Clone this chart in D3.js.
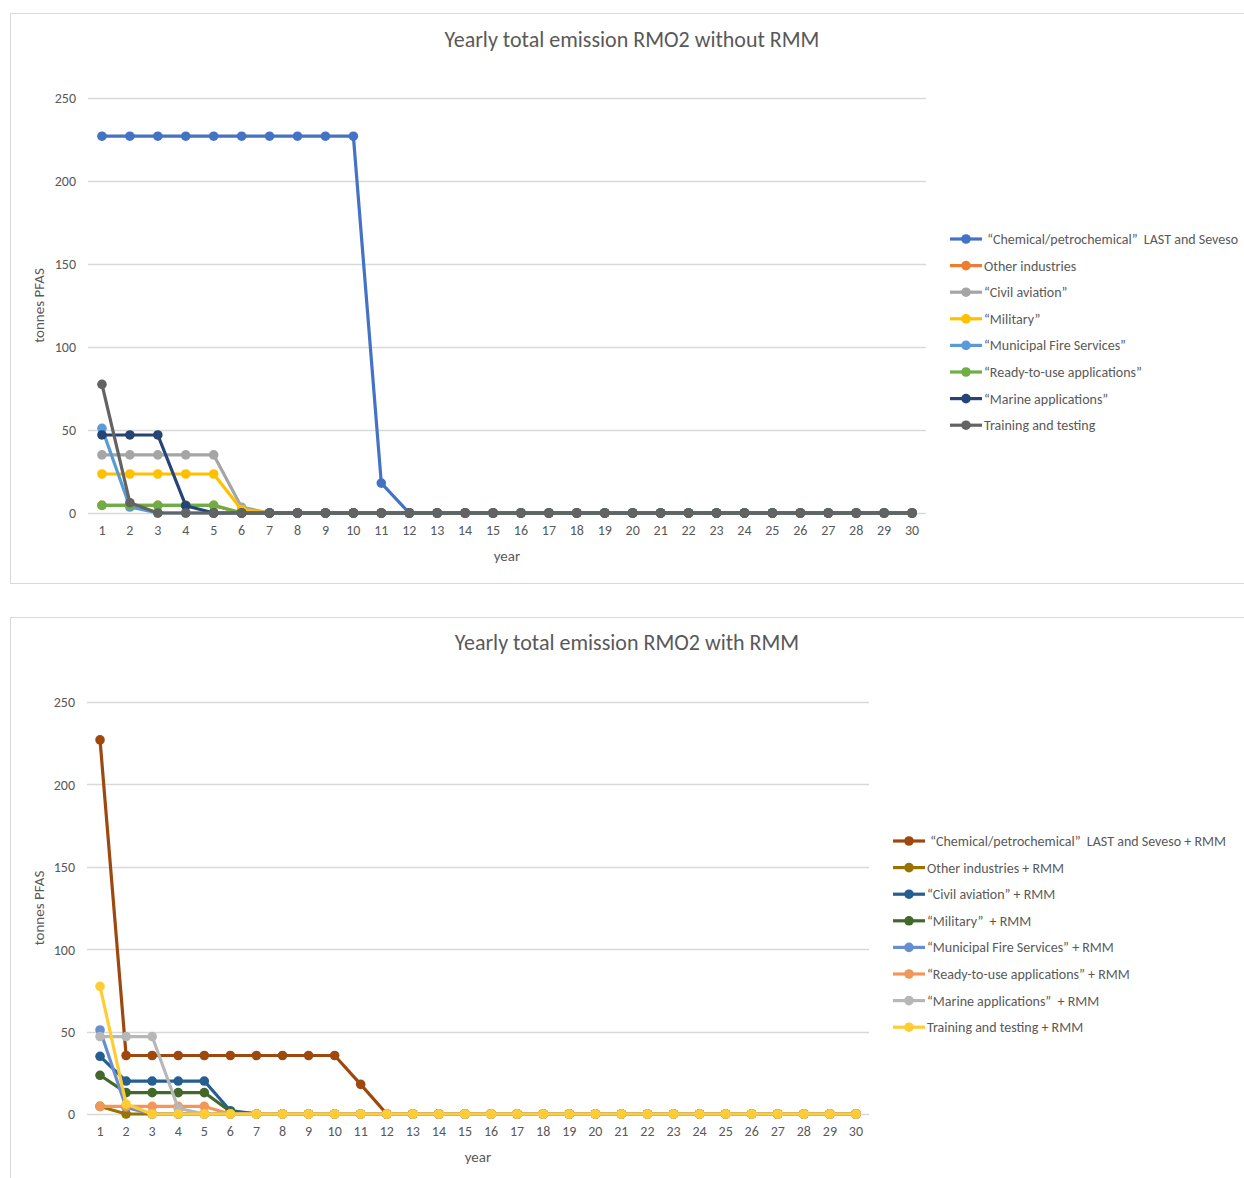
<!DOCTYPE html>
<html>
<head>
<meta charset="utf-8">
<script src="https://cdn.jsdelivr.net/npm/d3@7"></script>
<style>
  body { margin: 0; background: #fff; }
  text { font-family: Calibri, Lato, "Open Sans", sans-serif; fill: #595959; }
</style>
</head>
<body>
<div id="chart"></div>
<script>
const years = d3.range(1, 31);
const yTicks = [0, 50, 100, 150, 200, 250];

// without RMM
const chemical = [227, 227, 227, 227, 227, 227, 227, 227, 227, 227, 18];
const otherIndustries = [4.6, 4.6, 4.6, 4.6, 4.6, 0];
const civilAviation = [35, 35, 35, 35, 35, 3.5, 0];
const military = [23.5, 23.5, 23.5, 23.5, 23.5, 2, 0];
const municipal = [51, 3.6, 0];
const readyToUse = [4.6, 4.6, 4.6, 4.6, 4.6, 0];
const marine = [47, 47, 47, 4.4, 0];
const training = [77.5, 6.2, 0];

// with RMM
const chemicalRmm = [227, 35.5, 35.5, 35.5, 35.5, 35.5, 35.5, 35.5, 35.5, 35.5, 18];
const otherIndustriesRmm = [4.6, 0];
const civilAviationRmm = [35, 20, 20, 20, 20, 2, 0];
const militaryRmm = [23.5, 13, 13, 13, 13, 1.5, 0];
const municipalRmm = [51, 4, 0];
const readyToUseRmm = [4.6, 4.6, 4.6, 4.6, 4.6, 0];
const marineRmm = [47, 47, 47, 3.5, 0];
const trainingRmm = [77.5, 6, 0];

// pad each series with zeros up to year 30
const full = (arr) => years.map((y, i) => (i < arr.length ? arr[i] : 0));

const topSeries = [
  { name: " \u201CChemical/petrochemical\u201D  LAST and Seveso", values: chemical, color: "#4472C4" },
  { name: "Other industries", values: otherIndustries, color: "#ED7D31" },
  { name: "\u201CCivil aviation\u201D", values: civilAviation, color: "#A5A5A5" },
  { name: "\u201CMilitary\u201D", values: military, color: "#FFC000" },
  { name: "\u201CMunicipal Fire Services\u201D", values: municipal, color: "#5B9BD5" },
  { name: "\u201CReady-to-use applications\u201D", values: readyToUse, color: "#70AD47" },
  { name: "\u201CMarine applications\u201D", values: marine, color: "#264478" },
  { name: "Training and testing", values: training, color: "#636363" },
];

const bottomSeries = [
  { name: " \u201CChemical/petrochemical\u201D  LAST and Seveso + RMM", values: chemicalRmm, color: "#9E480E" },
  { name: "Other industries + RMM", values: otherIndustriesRmm, color: "#997300" },
  { name: "\u201CCivil aviation\u201D + RMM", values: civilAviationRmm, color: "#255E91" },
  { name: "\u201CMilitary\u201D  + RMM", values: militaryRmm, color: "#43682B" },
  { name: "\u201CMunicipal Fire Services\u201D + RMM", values: municipalRmm, color: "#698ED0" },
  { name: "\u201CReady-to-use applications\u201D + RMM", values: readyToUseRmm, color: "#F1975A" },
  { name: "\u201CMarine applications\u201D  + RMM", values: marineRmm, color: "#B7B7B7" },
  { name: "Training and testing + RMM", values: trainingRmm, color: "#FFCD33" },
];

const svg = d3.select("#chart").append("svg").attr("width", 1244).attr("height", 1178);

function drawChart(cfg) {
  const { frame, plot, title, titleX, titleY, series, legend } = cfg;

  svg.append("rect")
    .attr("x", frame.x + 0.5).attr("y", frame.y + 0.5)
    .attr("width", frame.w).attr("height", frame.h)
    .attr("fill", "none").attr("stroke", "#D9D9D9");

  svg.append("text")
    .attr("x", titleX).attr("y", titleY)
    .attr("text-anchor", "middle")
    .style("font-size", "22px")
    .text(title);

  const x = d3.scaleBand().domain(years).range([plot.left, plot.right]);
  const y = d3.scaleLinear().domain([0, 250]).range([plot.bottom, plot.top]);
  const cx = (yr) => x(yr) + x.bandwidth() / 2;

  const grid = svg.append("g");
  grid.selectAll("line").data(yTicks).enter().append("line")
    .attr("x1", plot.left).attr("x2", plot.right)
    .attr("y1", (d) => Math.round(y(d)) + 0.5).attr("y2", (d) => Math.round(y(d)) + 0.5)
    .attr("stroke", "#D9D9D9").attr("stroke-width", 1.3);

  const yAxis = svg.append("g")
    .attr("transform", `translate(${plot.left - 12},0)`)
    .call(d3.axisLeft(y).tickValues(yTicks).tickSize(0).tickPadding(0));
  yAxis.select(".domain").remove();
  yAxis.selectAll("text").style("font-size", "14px").attr("fill", "#595959").attr("dy", "0.35em");

  const xAxis = svg.append("g")
    .attr("transform", `translate(0,${plot.bottom})`)
    .call(d3.axisBottom(x).tickSize(0).tickPadding(12));
  xAxis.select(".domain").remove();
  xAxis.selectAll("text").style("font-size", "14px").attr("fill", "#595959");

  svg.append("text")
    .attr("x", (plot.left + plot.right) / 2).attr("y", plot.bottom + 48)
    .attr("text-anchor", "middle").style("font-size", "15px")
    .text("year");

  svg.append("text")
    .attr("transform", `translate(44,${(plot.top + plot.bottom) / 2}) rotate(-90)`)
    .attr("text-anchor", "middle").style("font-size", "15px")
    .text("tonnes PFAS");

  const line = d3.line().x((d) => cx(d.year)).y((d) => y(d.value));

  series.forEach((s) => {
    const pts = full(s.values).map((v, i) => ({ year: years[i], value: v }));
    const g = svg.append("g");
    g.append("path").datum(pts)
      .attr("d", line).attr("fill", "none")
      .attr("stroke", s.color).attr("stroke-width", 3.2).attr("stroke-linejoin", "round");
    g.selectAll("circle").data(pts).enter().append("circle")
      .attr("cx", (d) => cx(d.year)).attr("cy", (d) => y(d.value))
      .attr("r", 4.8).attr("fill", s.color);
  });

  const lg = svg.append("g");
  series.forEach((s, i) => {
    const ly = legend.y + i * legend.step;
    lg.append("line")
      .attr("x1", legend.x).attr("x2", legend.x + 32)
      .attr("y1", ly).attr("y2", ly)
      .attr("stroke", s.color).attr("stroke-width", 3.2);
    lg.append("circle").attr("cx", legend.x + 16).attr("cy", ly).attr("r", 4.8).attr("fill", s.color);
    lg.append("text")
      .attr("x", legend.x + 34).attr("y", ly).attr("dy", "0.35em")
      .style("font-size", "14px").style("white-space", "pre")
      .text(s.name);
  });
}

drawChart({
  frame: { x: 10, y: 13, w: 1240, h: 570 },
  plot: { left: 88, right: 926, top: 98, bottom: 513 },
  title: "Yearly total emission RMO2 without RMM",
  titleX: 632, titleY: 47,
  series: topSeries,
  legend: { x: 950, y: 239, step: 26.6 },
});

drawChart({
  frame: { x: 10, y: 617, w: 1240, h: 570 },
  plot: { left: 87, right: 869, top: 702, bottom: 1114 },
  title: "Yearly total emission RMO2 with RMM",
  titleX: 627, titleY: 650,
  series: bottomSeries,
  legend: { x: 893, y: 841, step: 26.6 },
});
</script>
</body>
</html>
